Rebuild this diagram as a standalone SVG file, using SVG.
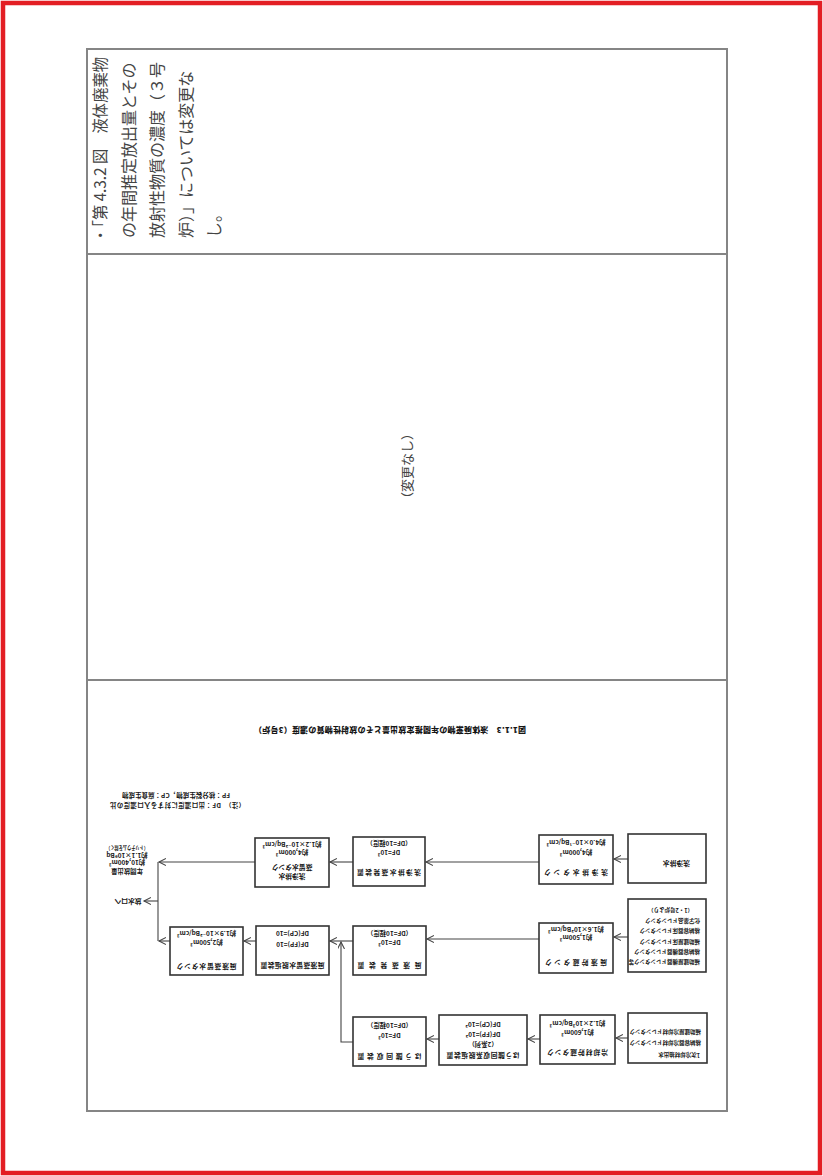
<svg xmlns="http://www.w3.org/2000/svg" width="823" height="1176" viewBox="0 0 823 1176">
<defs>
<style>
.frame{fill:none;stroke:#e31e24;stroke-width:4.5}
.grid{fill:none;stroke:#858585;stroke-width:2}
.big{font-family:"Noto Sans CJK JP","Noto Sans CJK SC",sans-serif;font-size:16px;fill:#444}
.box{fill:#fff;stroke:#333;stroke-width:1.6}
.t{font-family:"Noto Sans CJK JP","DejaVu Sans",sans-serif;font-size:6.4px;fill:#161616;font-weight:700}
.nm{font-size:6.8px}
.s{font-size:5.5px}
.m{text-anchor:middle}
.c{fill:none;stroke:#444;stroke-width:1.1}
</style>
<marker id="ah" markerUnits="userSpaceOnUse" markerWidth="10" markerHeight="10" refX="7" refY="3.5" orient="auto"><path d="M0,0 L7,3.5 L0,7" fill="none" stroke="#444" stroke-width="1.1"/></marker>
</defs>
<rect x="0" y="0" width="823" height="1176" fill="#fff"/>
<rect class="frame" x="3" y="3" width="817" height="1170"/>
<g id="table">
<rect class="grid" x="87" y="49" width="640" height="1062"/>
<line class="grid" x1="87" y1="254" x2="727" y2="254"/>
<line class="grid" x1="87" y1="680" x2="727" y2="680"/>
</g>
<g id="header-text" class="big">
<text transform="translate(106,243) rotate(-90)" textLength="186" lengthAdjust="spacingAndGlyphs">・「第 4.3.2 図　液体廃棄物</text>
<text transform="translate(134.5,238) rotate(-90)">の年間推定放出量とその</text>
<text transform="translate(163,238) rotate(-90)">放射性物質の濃度（３号</text>
<text transform="translate(191.5,238) rotate(-90)">炉）」については変更な</text>
<text transform="translate(220,238) rotate(-90)">し。</text>
</g>
<g id="no-change">
<text class="big" style="font-size:13px" text-anchor="middle" transform="translate(412,466) rotate(-90)">（変更なし）</text>
</g>
<g id="caption" transform="rotate(180 390 730)">
<text class="t m" style="font-size:8px;font-weight:900" x="390" y="733" textLength="272">図1.1.3　液体廃棄物の年間推定放出量とその放射性物質の濃度（3号炉）</text>
</g>
<g id="legend" transform="rotate(180 177.5 800)">
<text class="t" x="110" y="797.5" textLength="135">（注）　DF：出口濃度に対する入口濃度の比</text>
<text class="t" x="125" y="807.5" textLength="108">FP：核分裂生成物，CP：腐食生成物</text>
</g>
<g id="connectors">
<line class="c" x1="628" y1="859" x2="614" y2="859" marker-end="url(#ah)"/>
<line class="c" x1="539" y1="862" x2="426" y2="862" marker-end="url(#ah)"/>
<line class="c" x1="353" y1="862" x2="330" y2="862" marker-end="url(#ah)"/>
<line class="c" x1="255" y1="862" x2="159" y2="862" marker-end="url(#ah)"/>
<line class="c" x1="628" y1="937" x2="614" y2="937" marker-end="url(#ah)"/>
<line class="c" x1="539" y1="939" x2="427" y2="939" marker-end="url(#ah)"/>
<line class="c" x1="353" y1="941" x2="330" y2="941" marker-end="url(#ah)"/>
<line class="c" x1="256" y1="941" x2="244" y2="941" marker-end="url(#ah)"/>
<line class="c" x1="170" y1="941" x2="159" y2="941" marker-end="url(#ah)"/>
<line class="c" x1="158" y1="862" x2="158" y2="941"/>
<line class="c" x1="158" y1="901" x2="144" y2="901" marker-end="url(#ah)"/>
<line class="c" x1="628" y1="1038" x2="616" y2="1038" marker-end="url(#ah)"/>
<line class="c" x1="540" y1="1039" x2="528" y2="1039" marker-end="url(#ah)"/>
<line class="c" x1="439" y1="1039" x2="427" y2="1039" marker-end="url(#ah)"/>
<polyline class="c" points="353,1042 341,1042 341,942" marker-end="url(#ah)"/>
</g>
<g id="n-a" transform="rotate(180 667 858.5)">
<rect class="box" x="628" y="834" width="78" height="49"/>
<text class="t nm" x="644" y="856.5">洗浄排水</text>
</g>
<g id="n-b" transform="rotate(180 576 859.5)">
<rect class="box" x="539" y="835" width="74" height="49"/>
<text class="t nm m" x="576" y="848.6" textLength="64" lengthAdjust="spacing">洗浄排水タンク</text>
<text class="t m" x="576" y="868.6">約4,000m³</text>
<text class="t m" x="576" y="878.6">約4.0×10⁻¹Bq/cm³</text>
</g>
<g id="n-c" transform="rotate(180 389 861.5)">
<rect class="box" x="353" y="837" width="72" height="49"/>
<text class="t nm m" x="389" y="852.6" textLength="64" lengthAdjust="spacing">洗浄排水蒸発装置</text>
<text class="t m" x="389" y="872.6">DF=10³</text>
<text class="t m" x="389" y="881.6">（DF=10程度）</text>
</g>
<g id="n-d" transform="rotate(180 292 862.5)">
<rect class="box" x="255" y="838" width="74" height="49"/>
<text class="t nm m" x="292" y="850.6">洗浄排水</text>
<text class="t nm m" x="292" y="859.6">蒸留水タンク</text>
<text class="t m" x="292" y="874.6">約4,000m³</text>
<text class="t m" x="292" y="882.6">約1.2×10⁻²Bq/cm³</text>
</g>
<g id="n-out" transform="rotate(180 127 860)">
<text class="t m" x="127" y="851.5">年間放出量</text>
<text class="t m" x="127" y="860.5">約10,400m³</text>
<text class="t m" x="127" y="867.5">約1.1×10⁹Bq</text>
<text class="t m s" x="127" y="874.5" textLength="42" lengthAdjust="spacingAndGlyphs">（トリチウムを除く）</text>
</g>
<g id="n-sea" transform="rotate(180 128 901)">
<text class="t nm m" x="128" y="903.4">放水口へ</text>
</g>
<g id="n-e" transform="rotate(180 667 935.5)">
<rect class="box" x="628" y="899" width="78" height="73"/>
<text class="t s" x="634" y="911.2">補助建屋機器ドレンタンク等</text>
<text class="t s" x="634" y="921.2">格納容器機器ドレンタンク</text>
<text class="t s" x="634" y="931.2">補助建屋床ドレンタンク</text>
<text class="t s" x="634" y="942.2">格納容器床ドレンタンク</text>
<text class="t s" x="634" y="952.2">化学薬品ドレンタンク</text>
<text class="t s" x="641" y="963.2">（1・2号炉より）</text>
</g>
<g id="n-f" transform="rotate(180 576 948)">
<rect class="box" x="539" y="923" width="74" height="50"/>
<text class="t nm m" x="576" y="935.6" textLength="62" lengthAdjust="spacing">廃液貯蔵タンク</text>
<text class="t m" x="576" y="960.6">約1,500m³</text>
<text class="t m" x="576" y="968.6">約1.6×10²Bq/cm³</text>
</g>
<g id="n-g" transform="rotate(180 389.5 950.5)">
<rect class="box" x="353" y="926" width="73" height="49"/>
<text class="t nm m" x="389.5" y="937.6" textLength="64" lengthAdjust="spacing">廃液蒸発装置</text>
<text class="t m" x="389.5" y="960.6">DF=10³</text>
<text class="t m" x="389.5" y="969.6">（DF=10程度）</text>
</g>
<g id="n-h" transform="rotate(180 292.5 950.5)">
<rect class="box" x="256" y="926" width="73" height="49"/>
<text class="t nm m" x="292.5" y="937.6" textLength="64" lengthAdjust="spacing">廃液蒸留水脱塩装置</text>
<text class="t m" x="292.5" y="958.6">DF(FP)=10</text>
<text class="t m" x="292.5" y="969.6">DF(CP)=10</text>
</g>
<g id="n-i" transform="rotate(180 206.5 951)">
<rect class="box" x="170" y="927" width="73" height="48"/>
<text class="t nm m" x="206.5" y="937.6" textLength="60" lengthAdjust="spacing">廃液蒸留水タンク</text>
<text class="t m" x="206.5" y="961.6">約2,500m³</text>
<text class="t m" x="206.5" y="970.6">約1.9×10⁻²Bq/cm³</text>
</g>
<g id="n-j" transform="rotate(180 667.5 1038)">
<rect class="box" x="628" y="1013" width="79" height="50"/>
<text class="t s" x="635" y="1023.2">1次冷却材抽出水</text>
<text class="t s" x="634" y="1035.2">格納容器冷却材ドレンタンク</text>
<text class="t s" x="634" y="1046.2">補助建屋冷却材ドレンタンク</text>
</g>
<g id="n-k" transform="rotate(180 577.5 1039.5)">
<rect class="box" x="540" y="1015" width="75" height="49"/>
<text class="t nm m" x="577.5" y="1028.6" textLength="61" lengthAdjust="spacing">冷却材貯蔵タンク</text>
<text class="t m" x="577.5" y="1048.6">約1,600m³</text>
<text class="t m" x="577.5" y="1057.6">約1.2×10³Bq/cm³</text>
</g>
<g id="n-l" transform="rotate(180 483 1040)">
<rect class="box" x="439" y="1015" width="88" height="50"/>
<text class="t nm m" x="483" y="1026.6" textLength="73" lengthAdjust="spacing">ほう酸回収系脱塩装置</text>
<text class="t m" x="483" y="1037.6">（2系列）</text>
<text class="t m" x="483" y="1047.6">DF(FP)=10²</text>
<text class="t m" x="483" y="1057.6">DF(CP)=10²</text>
</g>
<g id="n-m" transform="rotate(180 389.5 1041.5)">
<rect class="box" x="353" y="1017" width="73" height="49"/>
<text class="t nm m" x="389.5" y="1028.6" textLength="64" lengthAdjust="spacing">ほう酸回収装置</text>
<text class="t m" x="389.5" y="1049.6">DF=10³</text>
<text class="t m" x="389.5" y="1059.6">（DF=10程度）</text>
</g>
</svg>
